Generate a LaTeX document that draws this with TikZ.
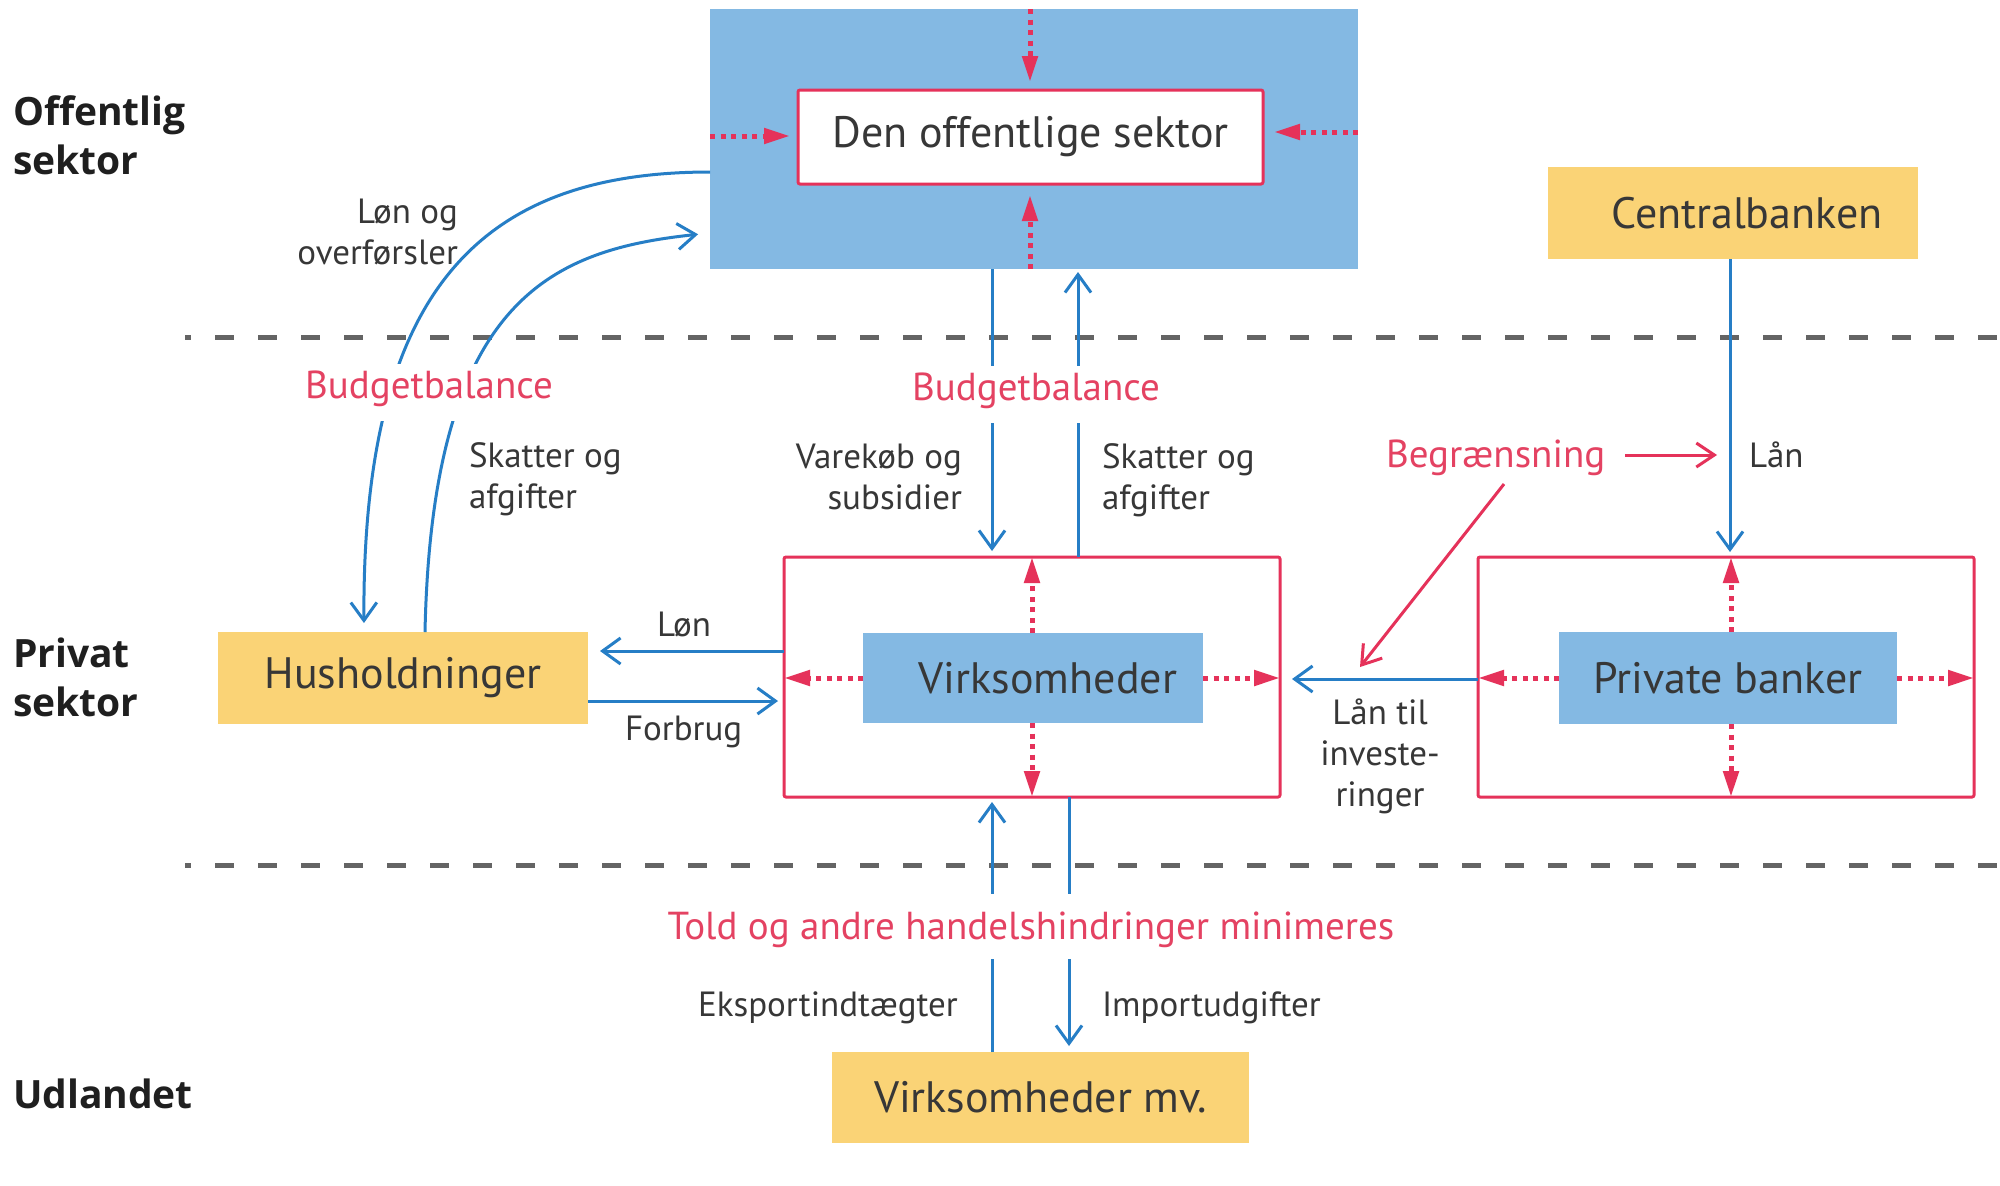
\documentclass[tikz,border=0pt]{standalone}
\usepackage{fontspec}
\setmainfont{PT Sans}
\newfontfamily\sidefont{Open Sans}
\usetikzlibrary{arrows.meta,calc}
\definecolor{boxblue}{RGB}{132,185,227}
\definecolor{boxyellow}{RGB}{250,211,118}
\definecolor{redc}{RGB}{229,50,90}
\definecolor{labred}{RGB}{228,66,98}
\definecolor{lineblue}{RGB}{38,126,198}
\definecolor{dashgray}{RGB}{100,100,100}
\definecolor{txt}{RGB}{55,55,55}
\tikzset{
  box/.style={inner sep=0pt, outer sep=0pt, text=txt, font=\fontsize{22}{26}\selectfont},
  bluebox/.style={box, fill=boxblue},
  yellowbox/.style={box, fill=boxyellow},
  redframe/.style={box, draw=redc, line width=1.5pt, rounded corners=1pt},
  smalllab/.style={inner sep=0pt, outer sep=0pt, text=txt, font=\fontsize{17.5}{20.5}\selectfont},
  redlab/.style={inner sep=0pt, outer sep=0pt, text=labred, font=\fontsize{19.5}{24}\selectfont},
  sidelab/.style={inner sep=0pt, outer sep=0pt, text=black!88, font=\sidefont\bfseries\fontsize{19.5}{24.5}\selectfont, align=left, anchor=base west},
  blueline/.style={draw=lineblue, line width=1.5pt},
  barrow/.style={blueline, -{Straight Barb[length=9pt,width=13pt]}},
  rarrow/.style={draw=redc, line width=1.5pt, -{Straight Barb[length=9pt,width=12pt]}},
  dotarrow/.style={draw=redc, line width=2.5pt, dash pattern=on 2.5pt off 2.75pt, -{Triangle[length=13pt,width=7.5pt]}},
  sepline/.style={draw=dashgray, line width=2.5pt, dash pattern=on 9.5pt off 12pt, dash phase=6.5pt},
  gaplab/.style={fill=white}
}
\begin{document}
\begin{tikzpicture}[x=0.5pt,y=-0.5pt]
\fill[white] (0,0) rectangle (2000,1185);
\useasboundingbox (0,0) rectangle (2000,1185);

% separators
\draw[sepline] (185,337) -- (2000,337);
\draw[sepline] (185,865) -- (2000,865);

% side labels (anchor = baseline of last line)
\node[sidelab] (lab1) at (13,174) {Offentlig\\sektor};
\node[sidelab] (lab2) at (13,716) {Privat\\sektor};
\node[sidelab] (lab3) at (13,1108) {Udlandet};

% boxes
\node[bluebox, minimum width=324pt, minimum height=130pt] (pub) at (1034,139) {};
\node[box, fill=white, draw=redc, line width=1.5pt, rounded corners=1pt, minimum width=232.5pt, minimum height=47pt] (pubin) at (1030.5,137) {Den offentlige sektor};
\node[yellowbox, minimum width=185pt, minimum height=46pt] (cb) at (1733,213) {\hspace*{14pt}Centralbanken};
\node[yellowbox, minimum width=185pt, minimum height=46pt] (hh) at (403,678) {Husholdninger};
\node[redframe, minimum width=248pt, minimum height=120pt] (virkout) at (1032,677) {};
\node[bluebox, minimum width=170pt, minimum height=45pt] (virk) at (1033,678) {\hspace*{15pt}Virksomheder};
\node[redframe, minimum width=248pt, minimum height=120pt] (pbout) at (1726,677) {};
\node[bluebox, minimum width=169pt, minimum height=46pt] (pb) at (1728,678) {Private banker};
\node[yellowbox, minimum width=208.5pt, minimum height=45.5pt] (vmv) at (1040.5,1097.5) {Virksomheder mv.};

% helper coordinates
\coordinate (xdn) at (992,0);
\coordinate (xup) at (1078,0);
\coordinate (xcb) at (1730,0);
\coordinate (ylon) at (0,651);
\coordinate (yfor) at (0,701);
\coordinate (ylt) at (0,679);
\coordinate (xex) at (992,0);
\coordinate (xim) at (1069,0);
\coordinate (ya) at (0,172);
\coordinate (xa) at (364,0);
\coordinate (xb) at (425,0);
\coordinate (yb) at (0,233);
\coordinate (xd) at (1030,0);
\coordinate (yl) at (0,136);
\coordinate (yr) at (0,132);
\coordinate (xv) at (1032,0);
\coordinate (xp) at (1731,0);
\coordinate (begrtip) at (1717,455);
\coordinate (diagstart) at (1504,484);
\coordinate (diagtip) at (1360,667);

% red dotted arrows
\draw[dotarrow, shorten >=4pt] (pub.north -| xd) -- (pubin.north -| xd);
\draw[dotarrow, shorten >=5.5pt] (pub.south -| xd) -- (pubin.south -| xd);
\draw[dotarrow, shorten >=4pt] (pub.west |- yl) -- (pubin.west |- yl);
\draw[dotarrow, shorten >=5.5pt] (pub.east |- yr) -- (pubin.east |- yr);
\draw[dotarrow] (virk.north -| xv) -- (virkout.north -| xv);
\draw[dotarrow] (virk.south -| xv) -- (virkout.south -| xv);
\draw[dotarrow] (virk.west) -- (virkout.west |- virk.west);
\draw[dotarrow] (virk.east) -- (virkout.east |- virk.east);
\draw[dotarrow] (pb.north -| xp) -- (pbout.north -| xp);
\draw[dotarrow] (pb.south -| xp) -- (pbout.south -| xp);
\draw[dotarrow] (pb.west) -- (pbout.west |- pb.west);
\draw[dotarrow] (pb.east) -- (pbout.east |- pb.east);

% blue flows
\draw[barrow, shorten >=4.5pt] (pub.west |- ya) .. controls (480,172) and (362,290) .. (hh.north -| xa);
\draw[barrow, shorten >=6pt] (hh.north -| xb) .. controls (432,300) and (550,250) .. (pub.west |- yb);
\draw[barrow, shorten >=3pt] (pub.south -| xdn) -- (virkout.north -| xdn);
\draw[barrow, shorten >=1.5pt] (virkout.north -| xup) -- (pub.south -| xup);
\draw[barrow, shorten >=2.5pt] (cb.south -| xcb) -- (pbout.north -| xcb);
\draw[barrow, shorten >=6pt] (virkout.west |- ylon) -- (hh.east |- ylon);
\draw[barrow, shorten >=3pt] (hh.east |- yfor) -- (virkout.west |- yfor);
\draw[barrow, shorten >=6pt] (pbout.west |- ylt) -- (virkout.east |- ylt);
\draw[barrow, shorten >=2.5pt] (vmv.north -| xex) -- (virkout.south -| xex);
\draw[barrow, shorten >=3pt] (virkout.south -| xim) -- (vmv.north -| xim);

% red labels (cover the flows)
\node[redlab, gaplab, anchor=base, text height=17pt, text depth=11.5pt] (bb1) at (429,398) {Budgetbalance};
\node[redlab, gaplab, anchor=base, text height=17pt, text depth=11.5pt] (bb2) at (1036,400) {Budgetbalance};
\node[redlab, gaplab, anchor=base, text height=22.5pt, text depth=10pt] (told) at (1031,939) {Told og andre handelshindringer minimeres};
\node[redlab, anchor=base west] (begr) at (1386,467) {Begrænsning};

% red arrows
\draw[rarrow] ($(begr.east |- begrtip)+(20,0)$) -- (begrtip);
\draw[rarrow] (diagstart) -- (diagtip);

% small labels (anchor = baseline of last line)
\node[smalllab, align=right, anchor=base east] (l1) at (458,264) {Løn og\\overførsler};
\node[smalllab, align=left, anchor=base west] (l2) at (469,508) {Skatter og\\afgifter};
\node[smalllab, align=right, anchor=base east] (l3) at (962,509) {Varekøb og\\subsidier};
\node[smalllab, align=left, anchor=base west] (l4) at (1102,509) {Skatter og\\afgifter};
\node[smalllab, anchor=base west] (l5) at (1749,467) {Lån};
\node[smalllab, anchor=base west] (l6) at (657,636) {Løn};
\node[smalllab, anchor=base west] (l7) at (625,740) {Forbrug};
\node[smalllab, align=center, anchor=base] (l8) at (1380,806) {Lån til\\investe-\\ringer};
\node[smalllab, anchor=base west] (l9) at (698,1016) {Eksportindtægter};
\node[smalllab, anchor=base west] (l10) at (1102,1016) {Importudgifter};
\end{tikzpicture}
\end{document}
